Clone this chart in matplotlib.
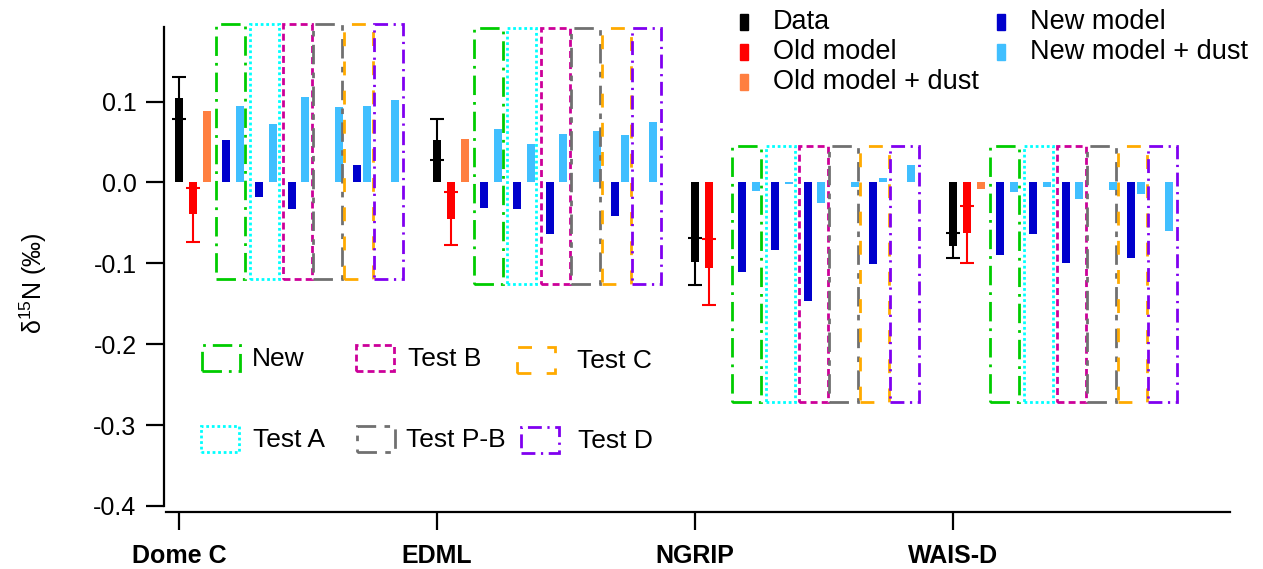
import numpy as np
import matplotlib
matplotlib.use('Agg')
import matplotlib.pyplot as plt
from matplotlib.patches import Rectangle

plt.rcParams['font.family'] = ['Liberation Sans', 'DejaVu Sans']
plt.rcParams['mathtext.default'] = 'regular'

W, H = 1263, 569

# ---- data (delta 15N, permil) ----
sites = ['Dome C', 'EDML', 'NGRIP', 'WAIS-D']
data_val = [0.105, 0.053, -0.098, -0.078]
data_err = [0.026, 0.025, 0.029, 0.016]
old_val = [-0.039, -0.045, -0.106, -0.063]
old_err_lo = [0.035, 0.032, 0.045, 0.036]
old_err_hi = [0.032, 0.033, 0.036, 0.034]
old_dust = [0.088, 0.054, 0.001, -0.008]

tests = ['New', 'Test A', 'Test B', 'Test P-B', 'Test C', 'Test D']
# new model, one row per test (nan = not shown)
new_model = [
    [0.053, -0.031, -0.111, -0.090],
    [-0.018, -0.033, -0.083, -0.064],
    [-0.033, -0.064, -0.146, -0.100],
    [np.nan, np.nan, np.nan, np.nan],
    [0.022, -0.041, -0.101, -0.093],
    [np.nan, np.nan, np.nan, np.nan],
]
new_model_dust = [
    [0.094, 0.066, -0.010, -0.012],
    [0.072, 0.047, -0.002, -0.006],
    [0.106, 0.060, -0.026, -0.021],
    [0.093, 0.064, -0.006, -0.009],
    [0.095, 0.059, 0.005, -0.014],
    [0.102, 0.075, 0.022, -0.060],
]
box_top = [0.196, 0.191, 0.045, 0.045]
box_bottom = [-0.120, -0.126, -0.272, -0.272]

# ---- styling ----
c_data, c_old, c_olddust = 'black', '#FF0000', '#FF7F40'
c_new, c_newdust = '#0000CC', '#40BFFF'
test_colors = ['#00CC00', '#00FFFF', '#CC0099', '#707070', '#FFAA00', '#8000F0']
test_styles = [(0, (7, 2.5, 1, 2.5)), (0, (1, 1)), (0, (2.5, 1.5)),
               (0, (7, 3, 2, 3)), (0, (5, 5.5)), (0, (5, 2, 0.8, 2))]
box_lw = 2.0

u = 258.0  # pixels per site
bw = 8 / u
off_dark = np.array([47, 80, 113, 146, 178, 202]) / u
off_light = np.array([61, 94, 126, 160, 188, 216]) / u
off_box = np.array([51.5, 85, 118.5, 148.5, 179, 209]) / u
box_w = 29 / u

fig = plt.figure(figsize=(W / 100, H / 100), dpi=100)
ax = fig.add_axes([164.3 / W, 1 - 511.7 / H, (1230 - 164.3) / W, (511.7 - 27) / H])

x = np.arange(len(sites))

ax.bar(x, data_val, bw, color=c_data, zorder=2)
ax.errorbar(x, data_val, yerr=data_err, fmt='none', ecolor=c_data,
            elinewidth=1.5, capsize=5, capthick=1.5, zorder=3)
ax.bar(x + 14 / u, old_val, bw, color=c_old, zorder=2)
ax.errorbar(x + 14 / u, old_val, yerr=[old_err_lo, old_err_hi], fmt='none',
            ecolor=c_old, elinewidth=1.5, capsize=5, capthick=1.5, zorder=3)
ax.bar(x + 28 / u, old_dust, bw, color=c_olddust, zorder=2)

for k in range(len(tests)):
    ax.bar(x + off_dark[k], new_model[k], bw, color=c_new, zorder=2)
    ax.bar(x + off_light[k], new_model_dust[k], bw, color=c_newdust, zorder=2)
    for i in range(len(sites)):
        r = Rectangle((x[i] + off_box[k] - box_w / 2, box_bottom[i]), box_w,
                      box_top[i] - box_bottom[i], fill=False,
                      edgecolor=test_colors[k], linestyle=test_styles[k],
                      lw=box_lw, zorder=4, clip_on=False)
        ax.add_patch(r)

ax.set_xlim(-14.7 / u, (1230 - 179) / u)
ax.set_ylim(-0.4072, 0.1923)
ax.spines['top'].set_visible(False)
ax.spines['right'].set_visible(False)
ax.spines['left'].set_bounds(-0.4, 0.1923)
ax.spines['bottom'].set_bounds(-14 / u + 0.002, (1230 - 179) / u)
for s in ['left', 'bottom']:
    ax.spines[s].set_linewidth(1.6)

ax.set_yticks([-0.4, -0.3, -0.2, -0.1, 0.0, 0.1])
ax.set_yticklabels(['-0.4', '-0.3', '-0.2', '-0.1', '0.0', '0.1'])
ax.set_xticks(x)
ax.set_xticklabels(sites, fontweight='bold')
ax.tick_params(axis='both', direction='out', length=13, width=1.6, labelsize=18)
ax.tick_params(axis='y', pad=7)
ax.tick_params(axis='x', pad=10)

fig.text(33 / W, 1 - 283 / H, 'δ$^{15}$N (‰)', rotation=90, ha='center',
         va='center', fontsize=18)

# ---- upper legend (bar series) ----
leg_bars = [('Data', c_data, 744, 22), ('Old model', c_old, 744, 52),
            ('Old model + dust', c_olddust, 744, 82),
            ('New model', c_new, 1001, 22), ('New model + dust', c_newdust, 1001, 52)]
for lab, col, px, py in leg_bars:
    fig.add_artist(Rectangle(((px - 4) / W, 1 - (py + 8) / H), 8 / W, 16 / H,
                             transform=fig.transFigure, color=col))
    fig.text((px + 29) / W, 1 - py / H, lab, ha='left', va='center', fontsize=19.5)

# ---- lower legend (test boxes) ----
leg_pos = [(202, 358, 252), (201, 439, 253), (356, 358, 408),
           (357, 439, 406), (517, 360, 577), (521, 440, 578)]
for k, (hx, hy, tx) in enumerate(leg_pos):
    fig.add_artist(Rectangle((hx / W, 1 - (hy + 13) / H), 38 / W, 26 / H,
                             transform=fig.transFigure, fill=False,
                             edgecolor=test_colors[k], linestyle=test_styles[k],
                             lw=box_lw))
    fig.text(tx / W, 1 - (hy + 1) / H, tests[k], ha='left', va='center', fontsize=19)

fig.savefig('out.png', dpi=100, facecolor='white')
